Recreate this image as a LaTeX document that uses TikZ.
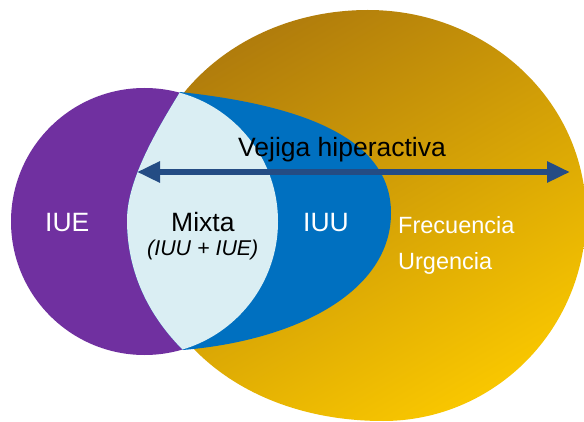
\documentclass[tikz,border=0pt]{standalone}
\usepackage{fontspec}
\setmainfont{Liberation Sans}
\usetikzlibrary{arrows.meta}
\definecolor{iuepurple}{RGB}{112,48,160}
\definecolor{iuublue}{RGB}{0,112,192}
\definecolor{mixlight}{RGB}{218,238,243}
\definecolor{arrowblue}{RGB}{36,76,132}
\definecolor{golddark}{RGB}{176,124,12}
\definecolor{goldmid}{RGB}{238,180,2}
\definecolor{goldbright}{RGB}{248,198,0}
\def\bluepathshape{(180,92) .. controls (300,105) and (391,137) .. (391,213)
 .. controls (391,290) and (300,340) .. (183,350)
 .. controls (151,318) and (127,275) .. (127,220)
 .. controls (127,178) and (160,125) .. (180,92) -- cycle}
\begin{document}
\begin{tikzpicture}[x=1pt,y=-1pt,
  lbl/.style={inner sep=0pt, anchor=base west},
  big/.style={font=\fontsize{26.5}{30}\selectfont},
  mid/.style={font=\fontsize{23.5}{28}\selectfont},
  small/.style={font=\fontsize{21.4}{25}\selectfont\itshape},
  tipstyle/.style={arrowblue, line width=6pt, {Triangle[length=23pt,width=20pt]}-{Triangle[length=23pt,width=20pt]}}]
\useasboundingbox (0,0) rectangle (584,422);
\fill[white] (0,0) rectangle (584,422);
% gold ellipse
\shade[top color=golddark, middle color=goldmid, bottom color=goldbright, shading angle=30]
  (368,10) .. controls (488.4,10) and (586,101.8) .. (586,215)
  .. controls (586,328.8) and (495.1,421) .. (383,421)
  .. controls (242,421) and (140,334.5) .. (140,215)
  .. controls (140,100.2) and (240.3,10) .. (368,10) -- cycle;
% purple circle
\fill[iuepurple] (144.5,221.5) circle[radius=133.5];
% blue shape
\fill[iuublue] \bluepathshape;
% lens
\begin{scope}
  \clip (144.5,221.5) circle[radius=133.5];
  \fill[mixlight] \bluepathshape;
\end{scope}
% arrow
\coordinate (arrL) at (137,172);
\coordinate (arrR) at (570,172);
\draw[tipstyle] (arrL) -- (arrR);
% labels
\node[lbl, big] (vejiga) at (238,157) {Vejiga hiperactiva};
\node[lbl, big, white] (iue) at (45,232) {IUE};
\node[lbl, big] (mixta) at (171,232) {Mixta};
\node[lbl, small] (mixsub) at (147,256) {(IUU + IUE)};
\node[lbl, big, white] (iuu) at (303,232) {IUU};
\node[lbl, mid, white] (frec) at (398,234) {Frecuencia};
\node[lbl, mid, white] (urg) at (398,270) {Urgencia};
\end{tikzpicture}
\end{document}
